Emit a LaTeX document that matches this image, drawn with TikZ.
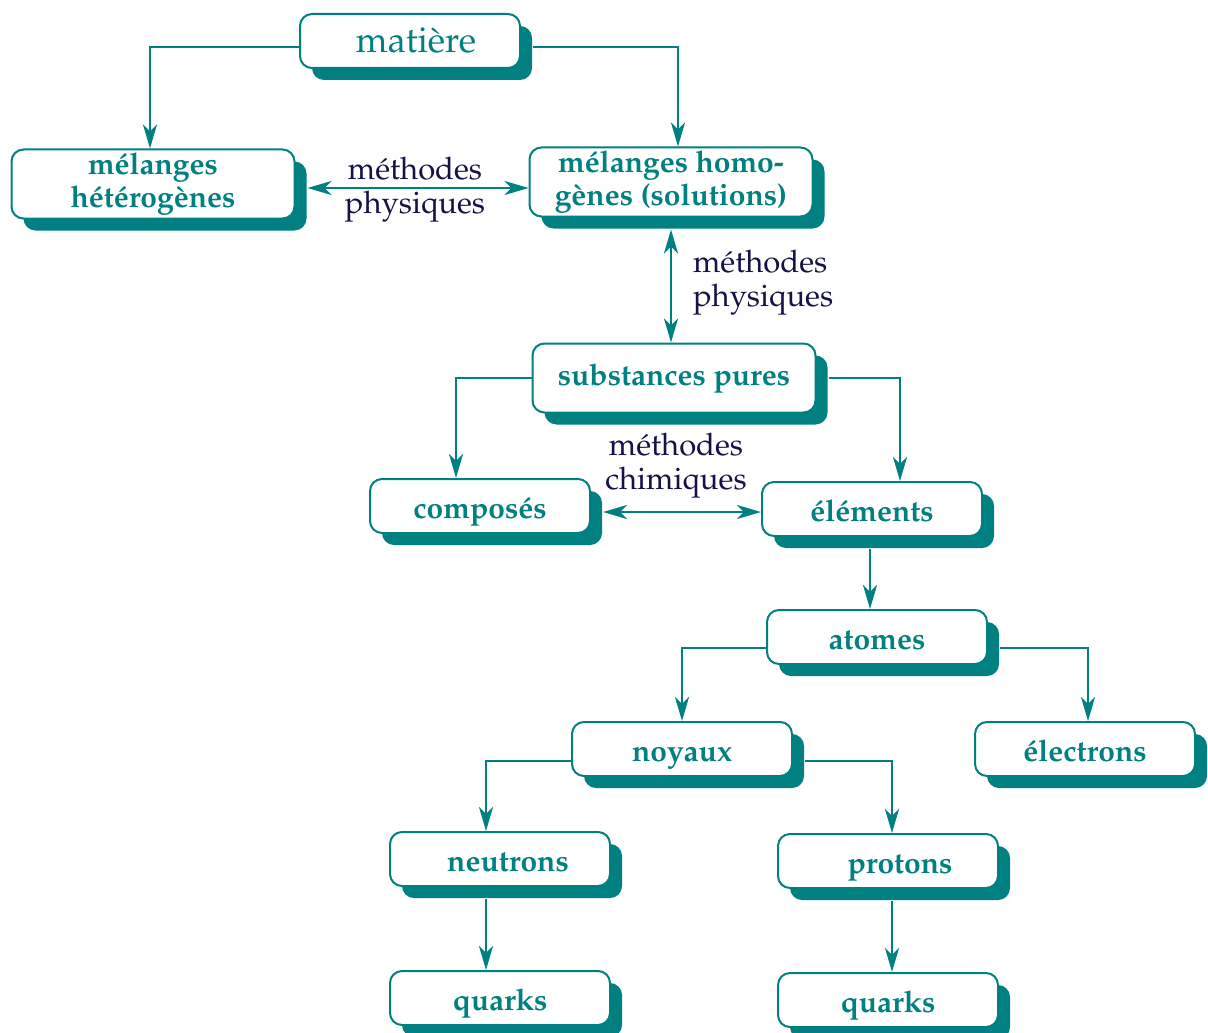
\documentclass[tikz,border=0pt]{standalone}
\usepackage[T1]{fontenc}
\usepackage{mathpazo}
\usepackage{tikz}
\usetikzlibrary{arrows.meta,shadows}

\definecolor{boxteal}{RGB}{0,128,128}
\definecolor{labelnavy}{RGB}{20,18,72}

\begin{document}
\begin{tikzpicture}[x=0.5pt,y=-0.5pt,
    boxbase/.style={draw=boxteal, line width=1pt, fill=white, rounded corners=6pt,
        minimum width=110pt, minimum height=27pt, inner sep=0pt, align=center,
        text=boxteal, font=\fontsize{15}{16.5}\selectfont\bfseries,
        drop shadow={shadow xshift=6pt, shadow yshift=-6pt, fill=boxteal, opacity=1}},
    box/.style={boxbase, text height=12pt, text depth=0pt},
    widebox/.style={boxbase, minimum width=141.5pt, minimum height=34.5pt},
    link/.style={draw=boxteal, line width=1.4pt, -{Stealth[length=12pt,width=7pt,inset=3.5pt]}},
    both/.style={link, {Stealth[length=12pt,width=7pt,inset=3.5pt]}-{Stealth[length=12pt,width=7pt,inset=3.5pt]}},
    lbl/.style={text=labelnavy, font=\fontsize{15.5}{17}\selectfont, align=center}]

\useasboundingbox (0,0) rectangle (1208,1032);

% boxes
\node[box, font=\fontsize{18}{20}\selectfont] (matiere) at (410,41) {\hspace*{6pt}matière};
\node[widebox] (hetero) at (153,184) {mélanges\\hétérogènes};
\node[widebox] (homo) at (671,182) {mélanges homo-\\gènes (solutions)};
\node[widebox] (pures) at (674,378) {substances pures};
\node[box] (composes) at (480,506) {composés};
\node[box] (elements) at (872,509) {éléments};
\node[box] (atomes) at (877,637) {atomes};
\node[box] (noyaux) at (682,749) {noyaux};
\node[box] (electrons) at (1085,749) {électrons};
\node[box] (neutrons) at (500,859) {\hspace*{8pt}neutrons};
\node[box] (protons) at (888,861) {\hspace*{12pt}protons};
\node[box] (quarksn) at (500,998) {quarks};
\node[box] (quarksp) at (888,1000) {quarks};

% labels
\node[lbl] (physA) at (415,190) {méthodes\\physiques};
\node[lbl, align=left, anchor=west] (physB) at (686,283) {méthodes\\physiques};
\node[lbl] (chim) at (676,466) {méthodes\\chimiques};

% connectors
\draw[link] ([yshift=-3pt]matiere.west) -| ([xshift=-1.5pt]hetero.north);
\draw[link] ([xshift=6pt,yshift=-3pt]matiere.east) -| ([xshift=3.5pt]homo.north);
\draw[both] ([xshift=6pt,yshift=-2pt]hetero.east) -- ([yshift=-2pt]hetero.east -| homo.west);
\draw[both] ([yshift=-6pt]homo.south) -- (homo.south |- pures.north);
\draw[link] (pures.west) -| ([xshift=-12pt]composes.north);
\draw[link] ([xshift=6pt]pures.east) -| ([xshift=14pt]elements.north);
\draw[both] ([xshift=6pt,yshift=-3pt]composes.east) -- ([yshift=-3pt]composes.east -| elements.west);
\draw[link] ([xshift=-1pt,yshift=-6pt]elements.south) -- ([xshift=-1pt]elements.south |- atomes.north);
\draw[link] ([yshift=-5.5pt]atomes.west) -| (noyaux.north);
\draw[link] ([xshift=6pt,yshift=-5.5pt]atomes.east) -| ([xshift=1.5pt]electrons.north);
\draw[link] ([yshift=-6pt]noyaux.west) -| ([xshift=-7pt]neutrons.north);
\draw[link] ([xshift=6pt,yshift=-6pt]noyaux.east) -| ([xshift=2pt]protons.north);
\draw[link] ([xshift=-7pt,yshift=-6pt]neutrons.south) -- ([xshift=-7pt]quarksn.north);
\draw[link] ([xshift=2pt,yshift=-6pt]protons.south) -- ([xshift=2pt]quarksp.north);

\end{tikzpicture}
\end{document}
